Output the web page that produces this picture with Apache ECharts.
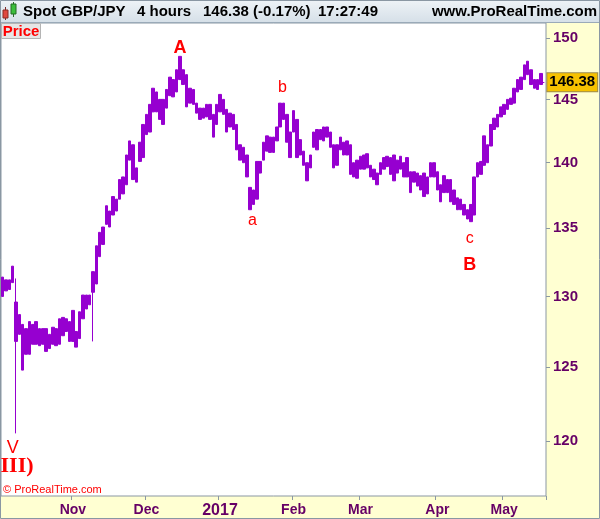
<!DOCTYPE html>
<html><head><meta charset="utf-8">
<script src="https://cdn.jsdelivr.net/npm/echarts@6/dist/echarts.min.js"></script>
<style>html,body{margin:0;padding:0;background:#fff}#c{width:600px;height:519px}</style>
</head><body><div id="c"></div>
<script>
// ---- data ----
const startDate = '2016-10-03';
const endDate = '2017-05-17';
const highs = [131.4,131.2,131.2,132.2,129.6,128.7,128.0,127.7,128.2,128.0,
128.2,127.7,127.7,127.7,127.3,127.8,127.7,128.4,128.5,128.4,
128.2,129.0,127.5,128.9,130.1,130.1,130.1,131.8,133.7,134.7,
135.1,136.7,136.3,137.4,137.2,138.7,138.9,140.6,141.7,141.4,
139.6,141.6,143.0,143.8,144.6,145.9,145.6,145.0,145.0,145.8,
146.8,146.6,147.4,148.5,147.4,147.0,145.9,145.8,144.7,144.3,
144.3,144.6,144.6,143.8,144.6,145.4,145.0,144.2,143.9,143.8,
143.0,141.4,141.2,140.6,138.1,137.9,140.1,140.1,141.6,142.1,
142.0,142.0,142.8,144.7,144.7,143.8,142.4,144.1,143.4,141.8,
140.9,140.0,140.6,142.4,142.6,142.6,142.8,142.8,142.4,141.4,
141.4,142.0,141.6,141.7,141.4,140.0,140.2,140.5,140.6,140.7,
139.8,139.5,139.2,140.0,140.4,140.5,140.4,140.6,140.2,140.5,
140.0,140.4,139.3,139.3,139.2,139.0,139.2,138.9,140.0,140.0,
139.3,138.3,139.0,138.7,138.7,137.9,137.3,137.2,136.8,136.4,
136.8,138.9,140.0,140.1,142.1,141.4,143.0,143.5,143.8,144.4,
144.6,145.0,145.1,145.9,146.6,146.8,147.8,148.1,147.4,146.6,
146.6,147.1];
const lows = [130.0,130.4,130.5,131.0,126.8,127.3,124.8,125.9,125.9,126.6,
126.6,126.5,126.6,126.1,126.3,126.6,126.5,126.6,127.2,127.5,
126.8,126.8,126.4,127.0,128.4,129.1,129.4,130.3,130.9,132.9,
133.8,135.3,135.1,136.0,136.3,137.2,137.6,138.3,140.2,138.7,
138.5,140.1,140.4,142.2,142.4,144.0,144.0,143.4,143.0,144.3,
145.3,145.2,145.6,146.6,146.2,144.4,144.7,144.6,143.9,143.4,
143.5,143.6,143.4,142.0,143.0,144.0,143.8,142.4,142.8,142.6,
141.0,140.2,140.0,138.9,136.4,136.8,137.2,139.2,140.2,140.9,
140.8,140.8,141.7,142.8,143.4,141.6,140.4,142.4,140.4,140.6,
139.8,138.6,139.6,141.2,141.0,141.8,141.7,142.0,141.2,139.6,
139.8,141.0,140.6,140.6,139.1,138.9,138.8,139.5,139.5,139.6,
138.9,138.7,138.3,139.1,139.5,139.7,139.1,138.6,139.2,139.5,
138.9,138.9,137.7,138.5,138.2,137.9,137.4,137.6,138.9,138.9,
137.9,137.0,137.7,137.7,137.0,136.8,136.4,136.4,136.0,135.7,
135.5,136.0,138.9,139.1,139.8,140.0,141.3,142.6,142.8,143.6,
143.8,144.2,144.6,144.7,145.6,145.8,146.6,147.0,146.2,145.9,
145.8,146.2];
// single thin spikes (wicks) beyond the bulk of a day's bars
const wickDates = ['2016-10-07', '2016-11-09'];
const wickHighs = [131.3, 131.8];
const wickLows  = [120.5, 126.8];
const lastPrice = 146.38;
const yTicks = [120, 125, 130, 135, 140, 145, 150];
const yMin = 116.39, yMax = 151.27;
const tickDates = ['2016-11-01','2016-12-01','2017-01-02','2017-02-01','2017-03-01','2017-04-03','2017-05-01'];
const tickLabels = ['Nov','Dec','2017','Feb','Mar','Apr','May'];
const waveTexts  = ['V','III)','A','a','b','c','B'];
const waveDates  = ['2016-10-06','2016-10-07','2016-12-15','2017-01-16','2017-01-27','2017-04-17','2017-04-17'];
const wavePrices = [119.54, 118.32, 149.17, 135.59, 145.95, 134.22, 132.31];

// ---- build ----
function weekdays(a, b) {
  const out = [];
  let d = new Date(a + 'T00:00:00Z');
  const e = new Date(b + 'T00:00:00Z');
  while (d <= e) {
    const w = d.getUTCDay();
    if (w !== 0 && w !== 6) out.push(d.toISOString().slice(0, 10));
    d = new Date(d.getTime() + 86400000);
  }
  return out;
}
const categories = weekdays(startDate, endDate);
const ln = Math.log;
const candleData = highs.map((h, i) => {
  const k = wickDates.indexOf(categories[i]);
  const lo = k >= 0 ? Math.min(lows[i], wickLows[k]) : lows[i];
  const hi = k >= 0 ? Math.max(h, wickHighs[k]) : h;
  return [ln(lows[i]), ln(h), ln(lo), ln(hi)];
});
const lastIdx = highs.length - 1;

const PURPLE = '#9600d0';
const RED = '#ff0000';
const AX = '#660066';
const FONT = '"Liberation Sans", Arial, sans-serif';

const waveStyles = {
  'V':   {fontSize: 18, fontWeight: 'normal', fontFamily: FONT, offset: [0, 0]},
  'III)':{fontSize: 22, fontWeight: 'bold', fontFamily: '"Liberation Serif", "Times New Roman", serif', offset: [1, 0]},
  'A':   {fontSize: 18, fontWeight: 'bold', fontFamily: FONT, offset: [0, 0]},
  'a':   {fontSize: 16, fontWeight: 'normal', fontFamily: FONT, offset: [-1, 0]},
  'b':   {fontSize: 16, fontWeight: 'normal', fontFamily: FONT, offset: [-1, 0]},
  'c':   {fontSize: 16, fontWeight: 'normal', fontFamily: FONT, offset: [-1, 0]},
  'B':   {fontSize: 18, fontWeight: 'bold', fontFamily: FONT, offset: [-1, 0]}
};
const markPoints = waveTexts.map((t, i) => {
  const s = waveStyles[t];
  return {
    coord: [waveDates[i], ln(wavePrices[i])],
    symbol: 'circle', symbolSize: 2, itemStyle: {color: 'rgba(0,0,0,0)', borderWidth: 0},
    label: {show: true, position: 'inside', formatter: t, color: RED,
      fontSize: s.fontSize, fontWeight: s.fontWeight, fontFamily: s.fontFamily, offset: s.offset}
  };
});

const chart = echarts.init(document.getElementById('c'), null, {renderer: 'canvas'});
chart.setOption({
  animation: false,
  backgroundColor: '#ffffd2',
  grid: {left: 1, right: 54, top: 23, bottom: 22, show: true, backgroundColor: '#ffffff',
         borderColor: '#8a97a3', borderWidth: 1},
  xAxis: {
    type: 'category', data: categories, boundaryGap: true,
    axisLine: {show: false},
    axisTick: {show: true, length: 4, lineStyle: {color: '#8a97a3'},
      interval: (i, v) => tickDates.indexOf(v) >= 0},
    axisLabel: {show: true, margin: 7, color: AX, fontWeight: 'bold', fontSize: 14, fontFamily: FONT,
      interval: (i, v) => tickDates.indexOf(v) >= 0,
      formatter: v => {
        const k = tickDates.indexOf(v);
        if (k < 0) return '';
        const t = tickLabels[k];
        return /^\d{4}$/.test(t) ? '{y|' + t + '}' : t;
      },
      rich: {y: {fontSize: 16, fontWeight: 'bold', color: AX, fontFamily: FONT}}
    },
    splitLine: {show: false}
  },
  yAxis: {
    type: 'value', position: 'right', min: ln(yMin), max: ln(yMax),
    axisLine: {show: false}, splitLine: {show: false},
    axisTick: {show: true, length: 4, lineStyle: {color: '#8a97a3'}, customValues: yTicks.map(ln)},
    axisLabel: {show: true, customValues: yTicks.map(ln), margin: 7,
      formatter: v => String(Math.round(Math.exp(v))),
      color: AX, fontWeight: 'bold', fontSize: 15, fontFamily: FONT}
  },
  series: [{
    type: 'candlestick', data: candleData, barWidth: 3, clip: false,
    itemStyle: {color: PURPLE, color0: PURPLE, borderColor: PURPLE, borderColor0: PURPLE, borderWidth: 1},
    markPoint: {silent: true, animation: false, data: markPoints},
    markLine: {silent: true, animation: false, symbol: 'none',
      lineStyle: {color: PURPLE, width: 1, type: 'solid'},
      label: {show: true, position: 'end', distance: 3, formatter: lastPrice.toFixed(2),
        backgroundColor: '#f6c200', borderColor: '#9a8a50', borderWidth: 1, padding: [2, 2, 1, 2],
        color: '#000', fontWeight: 'bold', fontSize: 15, fontFamily: FONT},
      data: [[{coord: [lastIdx, ln(lastPrice)]}, {coord: [lastIdx + 1, ln(lastPrice)]}]]
    }
  }],
  graphic: [
    {type: 'rect', shape: {x: 0, y: 0, width: 600, height: 22}, z: 50,
     style: {fill: new echarts.graphic.LinearGradient(0, 0, 0, 1, [{offset: 0, color: '#eef3f7'}, {offset: 1, color: '#d6e0e8'}])}},
    {type: 'line', shape: {x1: 0, y1: 22.5, x2: 600, y2: 22.5}, z: 51, style: {stroke: '#9aaab8', lineWidth: 1}},
    {type: 'line', shape: {x1: 5.5, y1: 7, x2: 5.5, y2: 20}, z: 51, style: {stroke: '#7a2a2a', lineWidth: 1}},
    {type: 'rect', shape: {x: 3, y: 10, width: 5, height: 8}, z: 52, style: {fill: '#e0483e', stroke: '#8a2a22', lineWidth: 1}},
    {type: 'line', shape: {x1: 13.5, y1: 2, x2: 13.5, y2: 17}, z: 51, style: {stroke: '#2a6a2a', lineWidth: 1}},
    {type: 'rect', shape: {x: 11, y: 4, width: 5, height: 10}, z: 52, style: {fill: '#3cbf3c', stroke: '#236b23', lineWidth: 1}},
    {type: 'text', x: 23, y: 11.5, z: 52, style: {text: 'Spot GBP/JPY', font: 'bold 15px ' + FONT, fill: '#000', verticalAlign: 'middle'}},
    {type: 'text', x: 137, y: 11.5, z: 52, style: {text: '4 hours', font: 'bold 15px ' + FONT, fill: '#000', verticalAlign: 'middle'}},
    {type: 'text', x: 203, y: 11.5, z: 52, style: {text: '146.38 (-0.17%)', font: 'bold 15px ' + FONT, fill: '#000', verticalAlign: 'middle'}},
    {type: 'text', x: 318, y: 11.5, z: 52, style: {text: '17:27:49', font: 'bold 15px ' + FONT, fill: '#000', verticalAlign: 'middle'}},
    {type: 'text', x: 597, y: 11.5, z: 52, style: {text: 'www.ProRealTime.com', font: 'bold 15px ' + FONT, fill: '#000', align: 'right', verticalAlign: 'middle'}},
    {type: 'rect', shape: {x: 1.5, y: 23.5, width: 39, height: 15}, z: 52, style: {fill: '#e6e6e6', stroke: '#b4b4b4', lineWidth: 1}},
    {type: 'text', x: 21, y: 31.5, z: 53, style: {text: 'Price', font: 'bold 15px ' + FONT, fill: RED, align: 'center', verticalAlign: 'middle'}},
    {type: 'text', x: 3, y: 490, z: 53, style: {text: '\u00a9 ProRealTime.com', font: '11px ' + FONT, fill: RED, verticalAlign: 'middle'}},
    {type: 'rect', shape: {x: 0.5, y: 0.5, width: 599, height: 518}, z: 60, silent: true, style: {fill: 'none', stroke: '#8a97a3', lineWidth: 1}}
  ]
});
</script>
</body></html>
